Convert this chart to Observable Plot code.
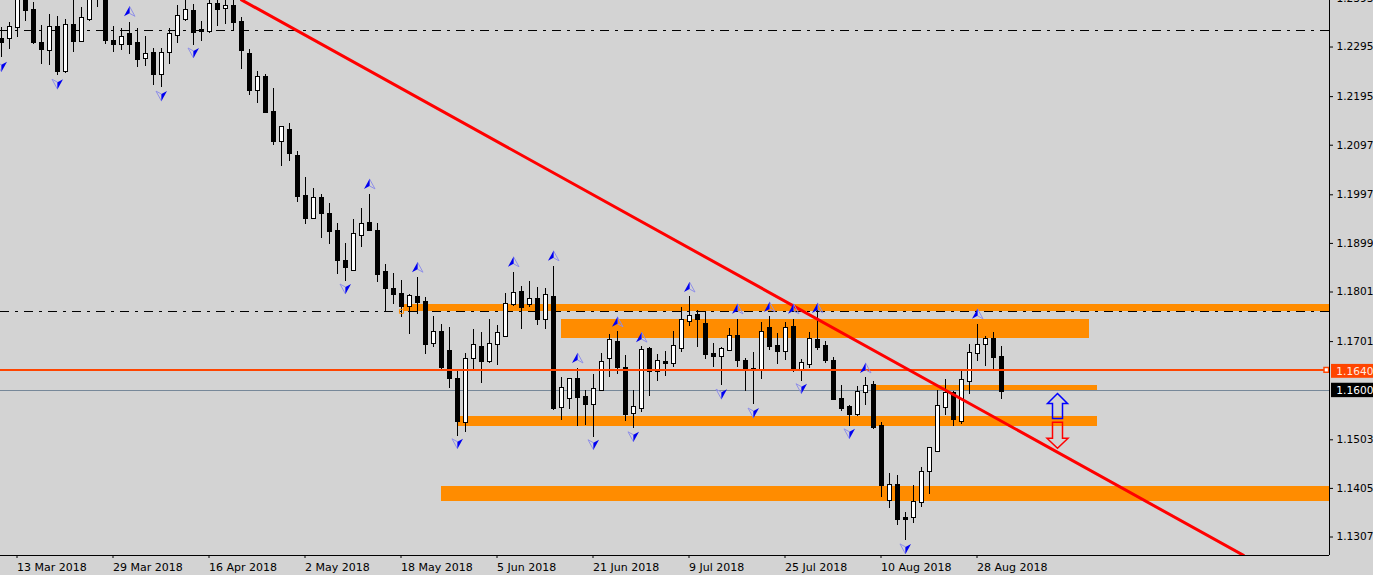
<!DOCTYPE html>
<html>
<head>
<meta charset="utf-8">
<script src="https://cdn.jsdelivr.net/npm/d3@7"></script>
<script src="https://cdn.jsdelivr.net/npm/@observablehq/plot@0.6"></script>
<style>
html,body{margin:0;padding:0;background:#d3d3d3;overflow:hidden}
svg{display:block}
</style>
</head>
<body>
<div id="chart"></div>
<script>
// Daily EURUSD candles, index 0 = 9 Mar 2018
const opens = [1.2312,1.2312,1.2334,1.2399,1.2369,1.2304,1.2286,1.2336,1.2244,1.2340,1.2306,1.2350,1.2395,1.2395,1.2308,1.2300,1.2322,1.2304,1.2270,1.2282,1.2238,1.2282,1.2318,1.2350,1.2367,1.2330,1.2326,1.2381,1.2371,1.2377,
1.2346,1.2280,1.2207,1.2234,1.2163,1.2103,1.2127,1.2076,1.1994,1.1949,1.1990,1.1959,1.1925,1.1863,1.1844,1.1913,1.1941,1.1925,1.1842,1.1808,1.1796,1.1770,1.1790,1.1780,1.1697,1.1721,1.1683,1.1625,1.1536,1.1665,
1.1691,1.1659,1.1695,1.1711,1.1774,1.1802,1.1774,1.1786,1.1744,1.1790,1.1568,1.1586,1.1625,1.1590,1.1574,1.1602,1.1665,1.1701,1.1647,1.1556,1.1566,1.1687,1.1639,1.1659,1.1655,1.1687,1.1740,1.1754,1.1736,1.1675,
1.1669,1.1683,1.1713,1.1661,1.1645,1.1643,1.1729,1.1693,1.1681,1.1731,1.1643,1.1653,1.1705,1.1693,1.1661,1.1586,1.1570,1.1552,1.1598,1.1613,1.1530,1.1379,1.1411,1.1346,1.1346,1.1375,1.1439,1.1479,1.1568,1.1598,
1.1538,1.1619,1.1677,1.1695,1.1707,1.1669];
const highs = [1.2334,1.2344,1.2413,1.2409,1.2385,1.2338,1.2361,1.2356,1.2350,1.2389,1.2375,1.2413,1.2439,1.2405,1.2336,1.2332,1.2344,1.2332,1.2316,1.2292,1.2292,1.2332,1.2379,1.2395,1.2381,1.2346,1.2395,1.2395,1.2399,1.2393,
1.2354,1.2290,1.2246,1.2240,1.2211,1.2135,1.2141,1.2084,1.2032,1.2010,1.1998,1.1980,1.1939,1.1899,1.1947,1.1969,1.1998,1.1939,1.1856,1.1838,1.1824,1.1796,1.1830,1.1790,1.1752,1.1736,1.1730,1.1641,1.1677,1.1725,
1.1719,1.1746,1.1734,1.1798,1.1840,1.1812,1.1822,1.1810,1.1808,1.1852,1.1629,1.1627,1.1647,1.1602,1.1635,1.1677,1.1715,1.1721,1.1673,1.1602,1.1691,1.1689,1.1675,1.1681,1.1721,1.1770,1.1792,1.1764,1.1762,1.1697,
1.1689,1.1727,1.1746,1.1667,1.1679,1.1740,1.1752,1.1717,1.1740,1.1746,1.1665,1.1719,1.1764,1.1701,1.1669,1.1612,1.1572,1.1611,1.1629,1.1621,1.1538,1.1435,1.1431,1.1356,1.1411,1.1447,1.1486,1.1602,1.1625,1.1600,
1.1641,1.1695,1.1736,1.1711,1.1719,1.1691];
const lows = [1.2274,1.2290,1.2314,1.2346,1.2300,1.2260,1.2258,1.2238,1.2242,1.2284,1.2306,1.2346,1.2375,1.2300,1.2284,1.2288,1.2280,1.2254,1.2256,1.2217,1.2213,1.2260,1.2302,1.2346,1.2298,1.2306,1.2322,1.2336,1.2340,1.2326,
1.2250,1.2197,1.2181,1.2161,1.2096,1.2054,1.2064,1.1982,1.1937,1.1947,1.1909,1.1897,1.1836,1.1822,1.1842,1.1891,1.1925,1.1820,1.1762,1.1776,1.1750,1.1715,1.1756,1.1675,1.1689,1.1645,1.1607,1.1510,1.1518,1.1645,
1.1617,1.1657,1.1653,1.1711,1.1772,1.1725,1.1770,1.1733,1.1725,1.1562,1.1542,1.1564,1.1530,1.1532,1.1508,1.1600,1.1629,1.1635,1.1540,1.1526,1.1558,1.1590,1.1621,1.1631,1.1649,1.1679,1.1732,1.1689,1.1665,1.1649,
1.1612,1.1683,1.1649,1.1600,1.1574,1.1625,1.1683,1.1655,1.1663,1.1639,1.1621,1.1647,1.1683,1.1657,1.1582,1.1560,1.1530,1.1550,1.1572,1.1524,1.1387,1.1365,1.1330,1.1300,1.1334,1.1367,1.1393,1.1479,1.1552,1.1530,
1.1534,1.1594,1.1661,1.1651,1.1645,1.1584];
const closes = [1.2304,1.2336,1.2405,1.2367,1.2304,1.2288,1.2336,1.2244,1.2340,1.2306,1.2354,1.2399,1.2419,1.2308,1.2300,1.2316,1.2300,1.2268,1.2280,1.2238,1.2282,1.2322,1.2357,1.2369,1.2324,1.2326,1.2381,1.2369,1.2377,1.2344,
1.2286,1.2207,1.2234,1.2161,1.2103,1.2133,1.2080,1.1992,1.1949,1.1990,1.1959,1.1923,1.1863,1.1850,1.1917,1.1939,1.1925,1.1836,1.1808,1.1794,1.1770,1.1792,1.1778,1.1695,1.1721,1.1647,1.1625,1.1538,1.1665,1.1695,
1.1659,1.1697,1.1719,1.1776,1.1800,1.1768,1.1786,1.1744,1.1794,1.1566,1.1607,1.1625,1.1588,1.1574,1.1605,1.1659,1.1705,1.1647,1.1554,1.1570,1.1685,1.1639,1.1661,1.1655,1.1693,1.1744,1.1752,1.1744,1.1673,1.1669,
1.1687,1.1713,1.1661,1.1641,1.1641,1.1721,1.1691,1.1681,1.1729,1.1645,1.1657,1.1707,1.1689,1.1661,1.1584,1.1566,1.1552,1.1600,1.1611,1.1526,1.1409,1.1411,1.1342,1.1342,1.1377,1.1439,1.1486,1.1572,1.1598,1.1542,
1.1623,1.1679,1.1695,1.1707,1.1667,1.1600];

const dateIndex = [2,14,26,38,50,62,74,86,98,110,122];
const dateLabels = ["13 Mar 2018","29 Mar 2018","16 Apr 2018","2 May 2018","18 May 2018","5 Jun 2018","21 Jun 2018","9 Jul 2018","25 Jul 2018","10 Aug 2018","28 Aug 2018"];
const priceTicks = [1.2393,1.2295,1.2195,1.2097,1.1997,1.1899,1.1801,1.1701,1.1503,1.1405,1.1307];

const fractalUpIndex = [16,46,52,64,69,72,77,80,86,92,96,99,102,108,122];
const fractalUpPrice = [1.2366,1.2018,1.1850,1.1861,1.1873,1.1667,1.1740,1.1709,1.1810,1.1766,1.1770,1.1766,1.1768,1.1647,1.1756];
const fractalDownIndex = [0,7,20,24,43,57,74,79,90,94,100,106,113];
const fractalDownPrice = [1.2256,1.2221,1.2197,1.2284,1.1808,1.1496,1.1494,1.1510,1.1596,1.1558,1.1607,1.1516,1.1284];

const bandStart = [50.25,70,109,57.125,55];
const bandEnd = [166,136,137,137,166];
const bandTop = [1.1776,1.1746,1.1612,1.1550,1.1409];
const bandBottom = [1.1762,1.1707,1.1602,1.1530,1.1379];

const trendIndex = [30,155.25];
const trendPrice = [1.2390,1.1270];
const dashLevels = [1.2328,1.1762];
const anchorIndex = 50;
const askLevel = 1.1644;
const bidLevel = 1.1602;
const askLabel = "1.1640";
const bidLabel = "1.1600";
const bigArrowIndex = 132;
const bigUpPrice = 1.1572;
const bigDownPrice = 1.1512;
const bottomPrice = 1.12697;

const candles = opens.map((o,i)=>({i,o,h:highs[i],l:lows[i],c:closes[i]}));
const ups = fractalUpIndex.map((i,n)=>({i,p:fractalUpPrice[n]}));
const downs = fractalDownIndex.map((i,n)=>({i,p:fractalDownPrice[n]}));
const bands = bandStart.map((s,n)=>({s,e:bandEnd[n],t:bandTop[n],b:bandBottom[n]}));
const trend = trendIndex.map((i,n)=>({i,p:trendPrice[n]}));

// custom glyphs (pixel shapes, positioned by the scales)
const poly = (ctx,pts)=>{pts.forEach((p,j)=>j?ctx.lineTo(p[0],p[1]):ctx.moveTo(p[0],p[1]));ctx.closePath();};
const upSolid = {draw(c){poly(c,[[0,-5.5],[-5.5,4.5],[0,1.5]]);}};
const upHollow = {draw(c){poly(c,[[0,-5.5],[5.5,4.5],[0,1.5]]);}};
const downSolid = {draw(c){poly(c,[[0,5.5],[5.5,-4.5],[0,-1.5]]);}};
const downHollow = {draw(c){poly(c,[[0,5.5],[-5.5,-4.5],[0,-1.5]]);}};
const bigUp = {draw(c){poly(c,[[0,-12],[10,-2],[5,-2],[5,13],[-5,13],[-5,-2],[-10,-2]]);}};
const bigDown = {draw(c){poly(c,[[-5,-13],[5,-13],[5,3],[10.5,3],[0,13],[-10.5,3],[-5,3]]);}};

const fontFamily = "'DejaVu Sans', sans-serif";
const plot = Plot.plot({
  width:1373, height:575,
  marginTop:0, marginLeft:0, marginRight:44, marginBottom:20,
  style:{background:"#d3d3d3", fontFamily, fontSize:"11px", color:"#000"},
  x:{type:"linear", domain:[-0.125,166], axis:null},
  y:{type:"linear", domain:[bottomPrice,1.23888], axis:null},
  marks:[
    Plot.rect(bands,{x1:"s",x2:"e",y1:"t",y2:"b",fill:"#ff8c00",shapeRendering:"crispEdges"}),
    Plot.ruleY(dashLevels,{stroke:"#000",strokeWidth:1,strokeDasharray:"9,6,3,6",shapeRendering:"crispEdges"}),
    Plot.ruleY([bidLevel],{stroke:"#778899",strokeWidth:1,shapeRendering:"crispEdges"}),
    Plot.ruleX(candles,{x:"i",y1:"h",y2:"l",stroke:"#000",strokeWidth:1,shapeRendering:"crispEdges",clip:true}),
    Plot.rect(candles,{x1:d=>d.i-0.25,x2:d=>d.i+0.25,y1:"o",y2:"c",dx:0.5,
      fill:d=>d.c>=d.o?"#fff":"#000",stroke:"#000",strokeWidth:1,shapeRendering:"crispEdges",clip:true}),
    Plot.ruleY([askLevel],{stroke:"#ff4500",strokeWidth:2,shapeRendering:"crispEdges"}),
    Plot.line(trend,{x:"i",y:"p",stroke:"#ff0000",strokeWidth:3,clip:true}),
    Plot.dot([{i:anchorIndex,p:dashLevels[1]}],{x:"i",y:"p",symbol:"square",r:2.3,stroke:"#ff8c00",fill:"none",strokeWidth:1}),
    Plot.dot([{i:165.6,p:askLevel}],{x:"i",y:"p",symbol:"square",r:2.6,stroke:"#ff4500",fill:"#fff",strokeWidth:1.5}),
    Plot.dot(ups,{x:"i",y:"p",symbol:upHollow,fill:"none",stroke:"#8f8fe8",strokeWidth:1}),
    Plot.dot(ups,{x:"i",y:"p",symbol:upSolid,fill:"#0000f0",stroke:"none"}),
    Plot.dot(downs,{x:"i",y:"p",symbol:downHollow,fill:"none",stroke:"#8f8fe8",strokeWidth:1}),
    Plot.dot(downs,{x:"i",y:"p",symbol:downSolid,fill:"#0000f0",stroke:"none"}),
    Plot.dot([{i:bigArrowIndex,p:bigUpPrice}],{x:"i",y:"p",symbol:bigUp,fill:"none",stroke:"#0000ff",strokeWidth:1.5}),
    Plot.dot([{i:bigArrowIndex,p:bigDownPrice}],{x:"i",y:"p",symbol:bigDown,fill:"none",stroke:"#ff0000",strokeWidth:1.5}),
    Plot.ruleX([166],{stroke:"#000",strokeWidth:1,shapeRendering:"crispEdges"}),
    Plot.ruleY([bottomPrice],{stroke:"#000",strokeWidth:1,shapeRendering:"crispEdges"}),
    Plot.axisY({anchor:"right",ticks:priceTicks,tickSize:3,tickPadding:4,tickFormat:d=>d.toFixed(4),label:null,stroke:"#000",fill:"#000",fontSize:10.6,fontFamily}),
    Plot.axisX({anchor:"bottom",ticks:dateIndex,tickSize:3,tickPadding:5,tickFormat:d=>dateLabels[dateIndex.indexOf(d)],textAnchor:"start",dx:-0.5,label:null,stroke:"#000",fill:"#000",fontSize:11,fontFamily}),
    Plot.rect([{t:1.1655,b:1.1627}],{x1:()=>166.25,x2:()=>172,y1:"t",y2:"b",fill:"#ff4500"}),
    Plot.rect([{t:1.1617,b:1.1588}],{x1:()=>166.25,x2:()=>172,y1:"t",y2:"b",fill:"#000"}),
    Plot.text([askLabel],{x:()=>166.85,y:()=>1.1641,text:d=>d,fill:"#ffe9e0",textAnchor:"start",fontSize:10.6,fontFamily}),
    Plot.text([bidLabel],{x:()=>166.85,y:()=>1.16025,text:d=>d,fill:"#fff",textAnchor:"start",fontSize:10.6,fontFamily})
  ]
});
document.getElementById("chart").appendChild(plot);
</script>
</body>
</html>
